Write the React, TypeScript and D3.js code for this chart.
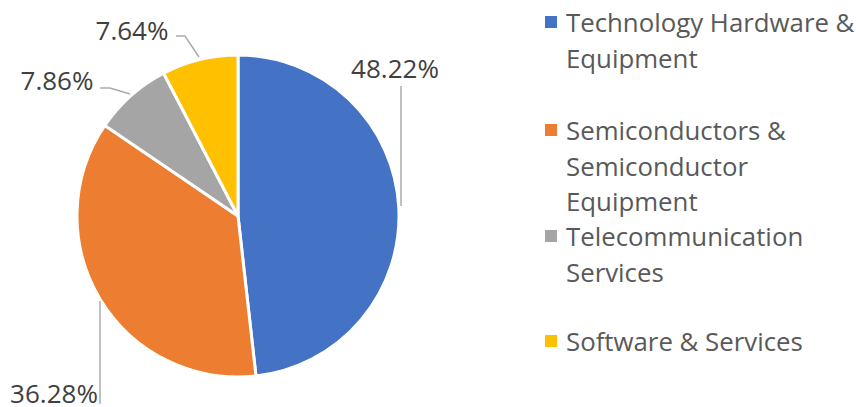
import React from "react";
import * as d3 from "d3";

const categories = [
  "Technology Hardware & Equipment",
  "Semiconductors & Semiconductor Equipment",
  "Telecommunication Services",
  "Software & Services",
];
const values = [48.22, 36.28, 7.86, 7.64];
const colors = ["#4472C4", "#ED7D31", "#A5A5A5", "#FFC000"];
const legendLines = [
  ["Technology Hardware &", "Equipment"],
  ["Semiconductors &", "Semiconductor", "Equipment"],
  ["Telecommunication", "Services"],
  ["Software & Services"],
];

const W = 856;
const H = 407;
const cx = 238;
const cy = 216;
const R = 161;

// label layout: text center and leader polyline
const labelLayout = [
  { tx: 395, ty: 68, line: [[401, 86], [401, 206]] },
  { tx: 54, ty: 393, line: [[100, 301], [100, 404]] },
  { tx: 57, ty: 80, line: [[100, 88], [110, 88], [130, 94]] },
  { tx: 132, ty: 30, line: [[176, 36], [185, 36], [199, 57]] },
];
const legendRowStart = [22, 130, 236, 341];

export default function App() {
  const pie = d3.pie<number>().sort(null).value((d) => d)(values);
  const arc = d3.arc<d3.PieArcDatum<number>>().innerRadius(0).outerRadius(R);
  const line = d3.line();
  const font = "'Open Sans', sans-serif";
  return (
    <svg
      width={W}
      height={H}
      style={{ position: "absolute", left: 0, top: 0, background: "#fff" }}
      fontFamily={font}
    >
      <g transform={`translate(${cx},${cy})`}>
        {pie.map((p, i) => (
          <path key={i} d={arc(p) || ""} fill={colors[i]} stroke="#fff" strokeWidth={3} strokeLinejoin="round" />
        ))}
      </g>
      {labelLayout.map((l, i) => (
        <g key={i}>
          <path d={line(l.line as [number, number][]) || ""} fill="none" stroke="#ABABAB" strokeWidth={1.5} />
          <text x={l.tx} y={l.ty} textAnchor="middle" dominantBaseline="central" fontSize={26} fill="#404040">
            {values[i].toFixed(2) + "%"}
          </text>
        </g>
      ))}
      {categories.map((c, i) => (
        <g key={c}>
          <rect x={545} y={legendRowStart[i] - 6} width={12} height={12} fill={colors[i]} />
          {legendLines[i].map((t, j) => (
            <text key={j} x={566} y={legendRowStart[i] + j * 35.5} dominantBaseline="central" fontSize={25.8} fill="#595959">
              {t}
            </text>
          ))}
        </g>
      ))}
    </svg>
  );
}
